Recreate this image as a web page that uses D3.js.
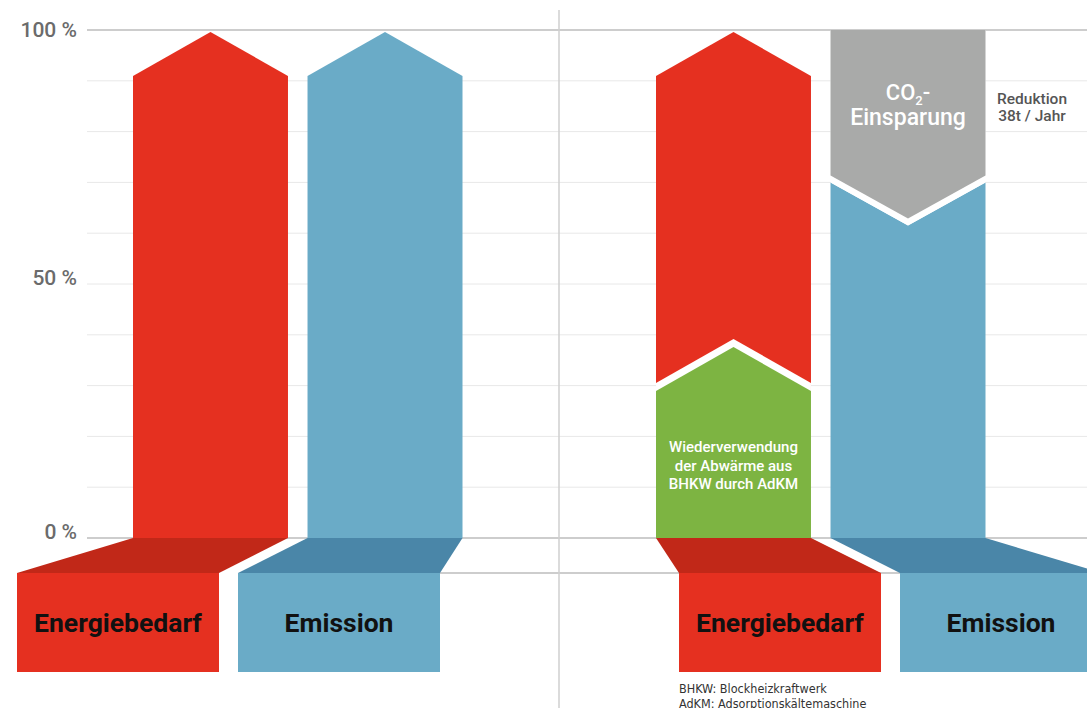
<!DOCTYPE html>
<meta charset="utf-8">

<!-- Load d3.js -->
<script src="https://d3js.org/d3.v7.min.js"></script>

<div id="my_dataviz"></div>

<style>
  body { margin: 0; background: #fff; }
  #my_dataviz { font-family: Roboto, 'Open Sans', sans-serif; }
</style>

<script>

// ---------------------------//
//       DATA                 //
// ---------------------------//
var panels = ["ohne", "mit"]
var categories = ["Energiebedarf", "Emission"]
var beforeValues = [100, 100]          // left panel, both at 100 %
var reuseValue = 38                    // green arrow (Wiederverwendung der Abwärme)
var emissionAfter = 70                 // blue arrow, right panel
var savingValue = 30                   // CO2-Einsparung (100 - 70)
var yTicks = [0, 10, 20, 30, 40, 50, 60, 70, 80, 90, 100]
var yLabels = [0, 50, 100]
var reuseLines = ["Wiederverwendung", "der Abwärme aus", "BHKW durch AdKM"]
var savingNote = ["Reduktion", "38t / Jahr"]
var footnotes = ["BHKW: Blockheizkraftwerk", "AdKM: Adsorptionskältemaschine"]

var colors = {
  Energiebedarf: "#e53020", Emission: "#6aabc7",
  EnergiebedarfDark: "#c12818", EmissionDark: "#4a86a8",
  green: "#7db442", gray: "#a9aaa9"
}

var width = 1087, height = 708

var svg = d3.select("#my_dataviz")
  .append("svg")
    .attr("width", width)
    .attr("height", height)

// ---------------------------//
//       SCALES               //
// ---------------------------//
var y = d3.scaleLinear().domain([0, 100]).range([538, 30])

// arrow columns
var xPanel = d3.scaleOrdinal().domain(panels).range([133, 656])
var xCat = d3.scaleBand().domain(categories).range([0, 329.5]).paddingInner(0.112)
// label boxes below the baseline
var xBoxPanel = d3.scaleOrdinal().domain(panels).range([17, 679])
var xBox = d3.scaleBand().domain(categories).range([0, 423]).paddingInner(0.086)

var boxTop = 573, boxBottom = 672
var tipDepth = 44

// ---------------------------//
//       GRID                 //
// ---------------------------//
svg.append("g")
  .selectAll("line")
  .data(yTicks)
  .join("line")
    .attr("x1", 87)
    .attr("x2", width)
    .attr("y1", d => y(d))
    .attr("y2", d => y(d))
    .attr("stroke", d => (d === 0 || d === 100) ? "#bdbdbd" : "#e8e8e8")
    .attr("stroke-width", d => (d === 0 || d === 100) ? 1.5 : 1)

svg.append("line")
  .attr("x1", 440).attr("x2", width)
  .attr("y1", boxTop).attr("y2", boxTop)
  .attr("stroke", "#bdbdbd").attr("stroke-width", 1.5)

svg.append("line")
  .attr("x1", 559).attr("x2", 559)
  .attr("y1", 10).attr("y2", height)
  .attr("stroke", "#cfcfcf").attr("stroke-width", 1.5)

svg.append("g")
  .selectAll("text")
  .data(yLabels)
  .join("text")
    .attr("x", 77)
    .attr("y", d => y(d) + (d === 100 ? 7 : 1))
    .attr("text-anchor", "end")
    .style("font-size", "21px")
    .style("font-weight", 500)
    .style("fill", "#6b6b6b")
    .text(d => d + " %")

// ---------------------------//
//       ARROW HELPERS        //
// ---------------------------//
// up arrow from 0 to tip value v
function upArrow(x0, w, v, dy) {
  var t = y(v) + 2 + (dy || 0), b = y(0)
  return [[x0, b], [x0, t + tipDepth], [x0 + w / 2, t], [x0 + w, t + tipDepth], [x0 + w, b]]
}
// bar from value lo to hi with a V notch at the bottom
function notchBar(x0, w, lo, hi, dy) {
  var t = y(hi), e = y(lo) + (dy || 0)
  return [[x0, t], [x0 + w, t], [x0 + w, e], [x0 + w / 2, e + 43], [x0, e]]
}
// bar from 0 to v with a V-notched top
function vTopBar(x0, w, v) {
  var e = y(v), b = y(0)
  return [[x0, b], [x0, e], [x0 + w / 2, e + 43], [x0 + w, e], [x0 + w, b]]
}
var line = d3.line()

// ---------------------------//
//       ARROWS               //
// ---------------------------//
var bw = xCat.bandwidth()

// left panel: both at 100 %
categories.forEach(function(c, i) {
  svg.append("path")
    .attr("d", line(upArrow(xPanel("ohne") + xCat(c), bw, beforeValues[i])) + "Z")
    .attr("fill", colors[c])
})

// right panel: energy arrow, then green reuse part in front of it
var xE = xPanel("mit") + xCat("Energiebedarf")
svg.append("path")
  .attr("d", line(upArrow(xE, bw, 100)) + "Z")
  .attr("fill", colors.Energiebedarf)
svg.append("path")
  .attr("d", line(upArrow(xE, bw, reuseValue, -8)) + "Z")
  .attr("fill", "#fff")
svg.append("path")
  .attr("d", line(upArrow(xE, bw, reuseValue)) + "Z")
  .attr("fill", colors.green)

// right panel: emission reduced, grey saving block on top
var xM = xPanel("mit") + xCat("Emission")
svg.append("path")
  .attr("d", line(vTopBar(xM, bw, emissionAfter)) + "Z")
  .attr("fill", colors.Emission)
svg.append("path")
  .attr("d", line(notchBar(xM, bw, 100 - savingValue, 100, 0)) + "Z")
  .attr("fill", "#fff")
svg.append("path")
  .attr("d", line(notchBar(xM, bw, 100 - savingValue, 100, -7)) + "Z")
  .attr("fill", colors.gray)

// ---------------------------//
//       BASE + LABEL BOXES   //
// ---------------------------//
panels.forEach(function(p) {
  categories.forEach(function(c) {
    var ax = xPanel(p) + xCat(c)
    var bx = xBoxPanel(p) + xBox(c)
    var trap = [[ax, y(0)], [ax + bw, y(0)], [bx + xBox.bandwidth(), boxTop], [bx, boxTop]]
    svg.append("path")
      .attr("d", line(trap) + "Z")
      .attr("fill", colors[c + "Dark"])
    svg.append("rect")
      .attr("x", bx).attr("y", boxTop)
      .attr("width", xBox.bandwidth()).attr("height", boxBottom - boxTop)
      .attr("fill", colors[c])
    svg.append("text")
      .attr("x", bx + xBox.bandwidth() / 2)
      .attr("y", 632)
      .attr("text-anchor", "middle")
      .style("font-size", "26.5px")
      .style("font-weight", 700)
      .style("fill", "#111")
      .text(c)
  })
})

// ---------------------------//
//       ANNOTATIONS          //
// ---------------------------//
svg.append("g")
  .selectAll("text")
  .data(reuseLines)
  .join("text")
    .attr("x", xE + bw / 2)
    .attr("y", (d, i) => 452 + i * 18.5)
    .attr("text-anchor", "middle")
    .style("font-size", "15px")
    .style("font-weight", 500)
    .style("fill", "#fff")
    .text(d => d)

var co2 = svg.append("text")
  .attr("x", xM + bw / 2)
  .attr("y", 100)
  .attr("text-anchor", "middle")
  .style("font-size", "22px")
  .style("font-weight", 500)
  .style("fill", "#fff")
co2.append("tspan").text("CO")
co2.append("tspan").text("2").style("font-size", "13px").attr("dy", 5)
co2.append("tspan").text("-").attr("dy", -5)

svg.append("text")
  .attr("x", xM + bw / 2)
  .attr("y", 125)
  .attr("text-anchor", "middle")
  .style("font-size", "23px")
  .style("font-weight", 500)
  .style("fill", "#fff")
  .text("Einsparung")

svg.append("g")
  .selectAll("text")
  .data(savingNote)
  .join("text")
    .attr("x", 1032)
    .attr("y", (d, i) => 104 + i * 17)
    .attr("text-anchor", "middle")
    .style("font-size", "15.5px")
    .style("font-weight", 500)
    .style("fill", "#555")
    .text(d => d)

svg.append("g")
  .selectAll("text")
  .data(footnotes)
  .join("text")
    .attr("x", 679)
    .attr("y", (d, i) => 693 + i * 14.5)
    .style("font-family", "'Liberation Sans Narrow', 'DejaVu Sans Condensed', sans-serif")
    .style("font-size", "12.5px")
    .style("fill", "#333")
    .text(d => d)

</script>
